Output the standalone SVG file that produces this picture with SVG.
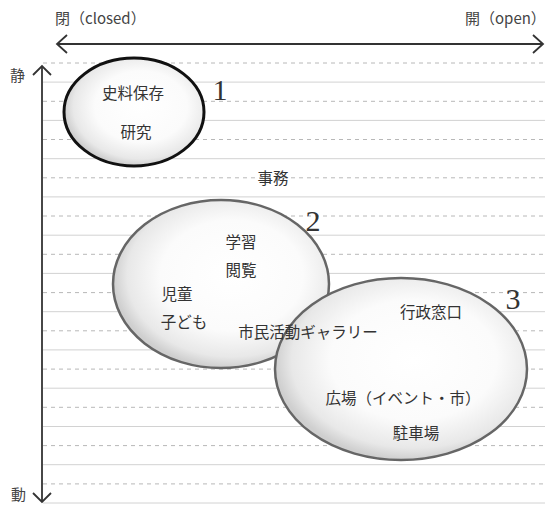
<svg xmlns="http://www.w3.org/2000/svg" width="545" height="507" viewBox="0 0 545 507">
<defs>
<style>
.t{font-family:"Noto Sans CJK JP","Noto Sans",sans-serif;font-size:15.5px;fill:#333;text-anchor:middle}
.lab{font-family:"Noto Sans CJK JP","Noto Sans",sans-serif;font-size:15px;fill:#444}
.num{font-family:"Liberation Serif",serif;font-size:30px;fill:#333;text-anchor:middle}
.gd{stroke:#b8b8b8;stroke-width:1;stroke-dasharray:4 4;fill:none}
.gs{stroke:#d2d2d2;stroke-width:1;fill:none}
.ax{stroke:#333;stroke-width:1.8;fill:none}
</style>
<radialGradient id="g1" cx="55%" cy="45%" r="55%">
<stop offset="0" stop-color="#fff"/>
<stop offset="0.6" stop-color="#fbfbfb"/>
<stop offset="0.88" stop-color="#e8e8e8"/>
<stop offset="1" stop-color="#cfcfcf"/>
</radialGradient>
</defs>
<rect width="545" height="507" fill="#fff"/>
<g id="grid">
<line class="gd" x1="43" y1="63" x2="545" y2="63"/>
<line class="gs" x1="43" y1="82.1" x2="545" y2="82.1"/>
<line class="gd" x1="43" y1="101.3" x2="545" y2="101.3"/>
<line class="gs" x1="43" y1="120.4" x2="545" y2="120.4"/>
<line class="gd" x1="43" y1="139.5" x2="545" y2="139.5"/>
<line class="gs" x1="43" y1="158.7" x2="545" y2="158.7"/>
<line class="gd" x1="43" y1="177.8" x2="545" y2="177.8"/>
<line class="gs" x1="43" y1="196.9" x2="545" y2="196.9"/>
<line class="gd" x1="43" y1="216" x2="545" y2="216"/>
<line class="gs" x1="43" y1="235.2" x2="545" y2="235.2"/>
<line class="gd" x1="43" y1="254.3" x2="545" y2="254.3"/>
<line class="gs" x1="43" y1="273.4" x2="545" y2="273.4"/>
<line class="gd" x1="43" y1="292.6" x2="545" y2="292.6"/>
<line class="gs" x1="43" y1="311.7" x2="545" y2="311.7"/>
<line class="gd" x1="43" y1="330.8" x2="545" y2="330.8"/>
<line class="gs" x1="43" y1="349.9" x2="545" y2="349.9"/>
<line class="gd" x1="43" y1="369.1" x2="545" y2="369.1"/>
<line class="gs" x1="43" y1="388.2" x2="545" y2="388.2"/>
<line class="gd" x1="43" y1="407.3" x2="545" y2="407.3"/>
<line class="gs" x1="43" y1="426.5" x2="545" y2="426.5"/>
<line class="gd" x1="43" y1="445.6" x2="545" y2="445.6"/>
<line class="gs" x1="43" y1="464.7" x2="545" y2="464.7"/>
<line class="gd" x1="43" y1="483.9" x2="545" y2="483.9"/>
<line class="gs" x1="43" y1="503" x2="545" y2="503"/>
</g>
<g id="connectors">
<line class="ax" x1="57" y1="44" x2="543" y2="44"/>
<polyline class="ax" points="67,35 57,44 67,53"/>
<polyline class="ax" points="533,35 543,44 533,53"/>
<line class="ax" x1="42" y1="66" x2="42" y2="502"/>
<polyline class="ax" points="33,75 42,66 51,75"/>
<polyline class="ax" points="33,493 42,502 51,493"/>
</g>
<g id="axis-labels">
<text class="lab" x="55" y="24">閉（closed）</text>
<text class="lab" x="465" y="24">開（open）</text>
<text class="lab" x="10" y="81">静</text>
<text class="lab" x="11" y="500">動</text>
</g>
<g id="zone1">
<ellipse cx="134" cy="112" rx="70" ry="54" fill="url(#g1)" stroke="#111" stroke-width="3"/>
<text class="t" x="133" y="99">史料保存</text>
<text class="t" x="136" y="138">研究</text>
<text class="num" x="220" y="100">1</text>
</g>
<g id="office">
<text class="t" x="273" y="184">事務</text>
</g>
<g id="zone2">
<ellipse cx="221" cy="284" rx="108" ry="84" fill="url(#g1)" stroke="#666" stroke-width="2.5"/>
<text class="t" x="241" y="248">学習</text>
<text class="t" x="241" y="276">閲覧</text>
<text class="t" x="177" y="300">児童</text>
<text class="t" x="184" y="328">子ども</text>
<text class="num" x="313" y="231">2</text>
</g>
<g id="zone3">
<ellipse cx="401" cy="369" rx="126" ry="91" fill="url(#g1)" stroke="#666" stroke-width="2.5"/>
<text class="t" x="431" y="318">行政窓口</text>
<text class="t" x="403" y="404">広場（イベント・市）</text>
<text class="t" x="416" y="439">駐車場</text>
<text class="num" x="513" y="309">3</text>
</g>
<g id="gallery">
<text class="t" x="308" y="338">市民活動ギャラリー</text>
</g>
</svg>
